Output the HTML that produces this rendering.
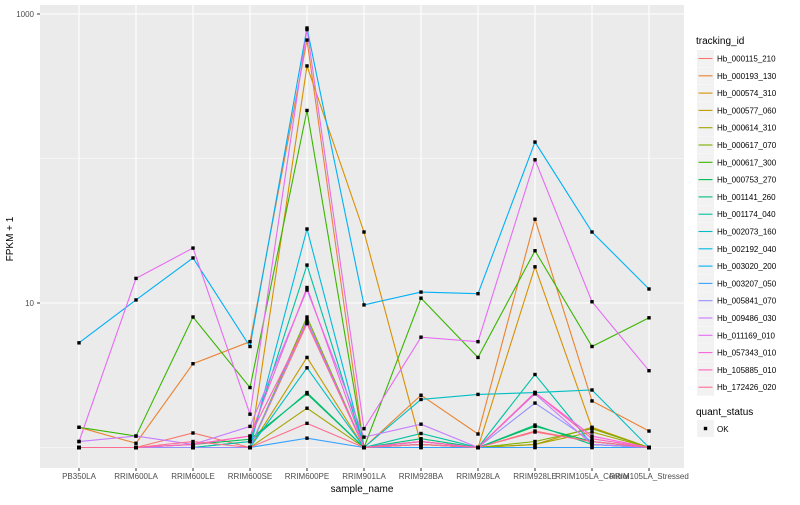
<!DOCTYPE html>
<html><head><meta charset="utf-8"><style>
body{margin:0;background:#fff;font-family:"Liberation Sans",sans-serif}
svg text{font-family:"Liberation Sans",sans-serif}
</style></head><body>
<svg id="chart" width="800" height="500" xmlns="http://www.w3.org/2000/svg">
<rect x="0" y="0" width="800" height="500" fill="#fff"/>
<rect x="40" y="5" width="644" height="463" fill="#ebebeb"/>
<g id="grid"></g><g id="lines"></g><g id="pts"></g><g id="axes"></g><g id="legend"></g>
</svg>
<script>
const categories=["PB350LA","RRIM600LA","RRIM600LE","RRIM600SE","RRIM600PE","RRIM901LA","RRIM928BA","RRIM928LA","RRIM928LE","RRIM105LA_Control","RRIM105LA_Stressed"];
const seriesNames=["Hb_000115_210","Hb_000193_130","Hb_000574_310","Hb_000577_060","Hb_000614_310","Hb_000617_070","Hb_000617_300","Hb_000753_270","Hb_001141_260","Hb_001174_040","Hb_002073_160","Hb_002192_040","Hb_003020_200","Hb_003207_050","Hb_005841_070","Hb_009486_030","Hb_011169_010","Hb_057343_010","Hb_105885_010","Hb_172426_020"];
const colors=["#F8766D","#EA8331","#D89000","#C09B00","#A3A500","#7CAE00","#39B600","#00BB4E","#00BF7D","#00C1A3","#00BFC4","#00BAE0","#00B0F6","#35A2FF","#9590FF","#C77CFF","#E76BF3","#FA62DB","#FF62BC","#FF6C91"];
const values=[
[1,1,1.26,1,7.2,1,1.1,1,1.3,1.1,1],
[1.38,1.07,3.8,5.4,660,1,2.3,1.24,38,2.1,1.3],
[1,1,1,1,437,31,1.05,1,17.8,1.36,1],
[1,1,1,1,4.2,1,1,1,1.05,1.38,1],
[1,1,1,1,1.87,1,1.05,1,1.05,1.28,1],
[1,1,1,1,8.0,1,1.05,1,1.1,1.35,1],
[1.38,1.2,8,2.6,215,1,10.8,4.2,23,5.0,7.9],
[1,1,1.05,1.14,2.35,1,1.1,1,1.4,1.1,1],
[1,1,1,1.1,2.4,1,1.15,1,1.43,1.05,1],
[1,1,1,1.1,18.3,1,1.25,1,3.2,1.05,1],
[1,1,1,1,3.56,1,2.15,2.33,2.4,2.5,1],
[1,1,1,1,32.5,1,1,1,1,1,1],
[5.3,10.5,20.5,5.0,800,9.7,11.9,11.6,130,31,12.5],
[1,1,1,1,1.16,1,1,1,1,1,1],
[1,1,1,1,7.6,1,1.05,1,2.03,1.1,1],
[1.1,1.2,1.05,1.4,12.3,1.18,1.45,1,2.35,1.05,1],
[1.1,14.8,24,1.7,780,1.35,5.8,5.4,98,10.2,3.4],
[1,1,1.05,1.2,12.8,1,1.1,1,2.4,1.2,1],
[1,1,1.05,1.2,7.3,1,1.1,1,2.4,1.15,1],
[1,1,1.1,1,1.47,1,1.05,1,1.28,1.1,1]
];
const yTicks=[10,1000];
const yMinor=[1,100];
const NS="http://www.w3.org/2000/svg";
function xS(i){return 79+i*57;}
function yS(v){return 447.5-144.5*Math.log10(v);}
function mk(tag,attrs,parent,txt){const e=document.createElementNS(NS,tag);for(const k in attrs)e.setAttribute(k,attrs[k]);if(txt!==undefined)e.textContent=txt;document.getElementById(parent).appendChild(e);return e;}
yMinor.forEach(v=>{const e=mk('line',{x1:40,x2:684,y1:yS(v),y2:yS(v),stroke:'#fff','stroke-width':0.5},'grid');

});
yTicks.forEach(v=>{const e=mk('line',{x1:40,x2:684,y1:yS(v),y2:yS(v),stroke:'#fff','stroke-width':1.1},'grid');


const t=mk('text',{x:34,y:yS(v)+3,'text-anchor':'end','font-size':8,fill:'#4d4d4d'},'axes',String(v));


const tk=mk('line',{x1:37,x2:40,y1:yS(v),y2:yS(v),stroke:'#333'},'axes');

});
categories.forEach((c,i)=>{const e=mk('line',{x1:xS(i),x2:xS(i),y1:5,y2:468,stroke:'#fff','stroke-width':1.1},'grid');


const tk=mk('line',{x1:xS(i),x2:xS(i),y1:468,y2:471,stroke:'#333'},'axes');


const t=mk('text',{x:xS(i),y:479,'text-anchor':'middle','font-size':8,fill:'#4d4d4d'},'axes',c);

});
values.forEach((s,k)=>{const p=mk('polyline',{points:s.map((v,i)=>xS(i)+','+yS(v)).join(' '),fill:'none',stroke:colors[k],'stroke-width':1.1},'lines');


s.forEach((v,i)=>{const r=mk('rect',{x:xS(i)-1.7,y:yS(v)-1.7,width:3.4,height:3.4,fill:'#000'},'pts');

});});
let t=mk('text',{x:10,y:236,'font-size':10,fill:'#000','text-anchor':'middle',transform:'rotate(-90 13 236)'},'axes','FPKM + 1');


t=mk('text',{x:362,y:492,'font-size':10,fill:'#000','text-anchor':'middle'},'axes','sample_name');


t=mk('text',{x:696,y:44,'font-size':10,fill:'#000'},'legend','tracking_id');


seriesNames.forEach((n,k)=>{const y=50+k*17.3;
const b=mk('rect',{x:697,y:y,width:17,height:17,fill:'#f2f2f2'},'legend');


const l=mk('line',{x1:698.5,x2:712.5,y1:y+8.5,y2:y+8.5,stroke:colors[k],'stroke-width':1.1},'legend');


const tx=mk('text',{x:717,y:y+11.5,'font-size':8,fill:'#000'},'legend',n);

});
t=mk('text',{x:696,y:415,'font-size':10,fill:'#000'},'legend','quant_status');


let b=mk('rect',{x:697,y:420,width:17,height:17,fill:'#f2f2f2'},'legend');


b=mk('rect',{x:703.8,y:426.8,width:3.4,height:3.4,fill:'#000'},'legend');


t=mk('text',{x:717,y:432,'font-size':8,fill:'#000'},'legend','OK');


</script>
</body></html>
